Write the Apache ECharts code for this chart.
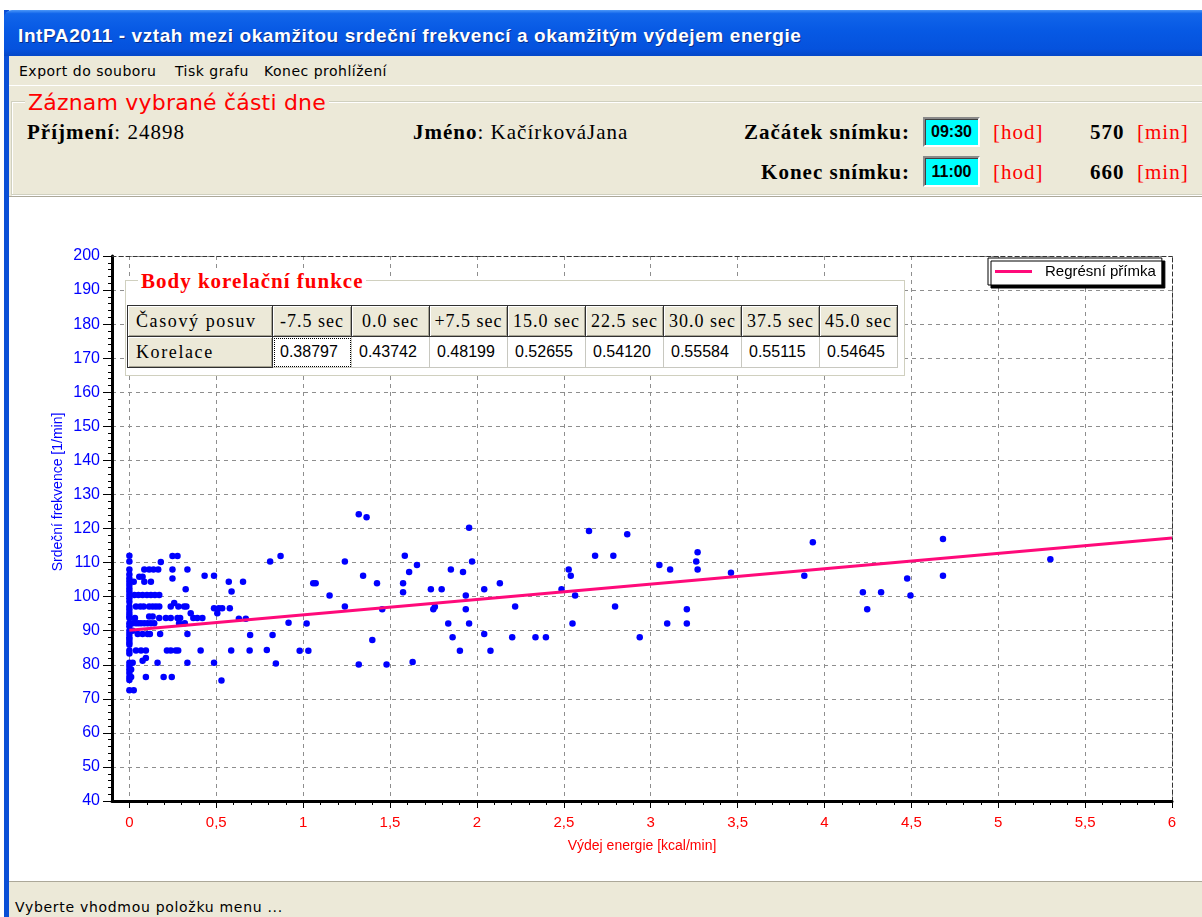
<!DOCTYPE html>
<html lang="cs">
<head>
<meta charset="utf-8">
<title>IntPA2011</title>
<script src="https://cdn.jsdelivr.net/npm/echarts@6/dist/echarts.min.js"></script>
<style>
html,body{margin:0;padding:0;}
body{width:1202px;height:917px;position:relative;overflow:hidden;background:#fff;font-family:"DejaVu Sans",sans-serif;}
.abs{position:absolute;white-space:nowrap;}
#frameLeft{left:4px;top:10px;width:5px;height:907px;background:#0a4fd6;}
#titlebar{left:4px;top:10px;width:1198px;height:46px;border-top-left-radius:8px;
  background:linear-gradient(#4c97f8 0%,#1165ea 8%,#0759e4 45%,#0552dd 85%,#0447c8 100%);}
#titleText{left:18px;top:25px;line-height:24px;color:#fff;font:bold 19px "Liberation Sans",sans-serif;letter-spacing:0.6px;text-shadow:1px 1px 0 #0a2f8a;}
#menubar{left:9px;top:56px;width:1193px;height:29px;background:#ece9d8;border-bottom:1px solid #fff;}
.menu{top:61px;line-height:20px;font-size:14px;letter-spacing:0.5px;color:#000;}
#header{left:9px;top:86px;width:1193px;height:110px;background:#ece9d8;border-bottom:1px solid #aca899;}
#groupBox{left:11px;top:101px;width:1200px;height:92px;border:1px solid #d0d0bf;box-shadow:inset 1px 1px 0 #fff,1px 1px 0 #fff;}
#groupTitle{left:25px;top:89px;line-height:28px;padding:0 3px;background:#ece9d8;color:#ff0000;font-size:22px;letter-spacing:0.2px;font-family:"DejaVu Sans",sans-serif;}
.ser{font-family:"Liberation Serif",serif;font-size:21px;line-height:26px;letter-spacing:1px;color:#000;}
.b{font-weight:bold;}
.red{color:#ff0000;}
.cyan{background:#00ffff;border:2px solid;border-color:#8a8a8a #fff #fff #8a8a8a;box-shadow:inset 1px 1px 0 #404040;
  font:bold 16px "Liberation Sans",sans-serif;color:#000;text-align:center;width:53px;}
#status{left:9px;top:881px;width:1193px;height:36px;background:#ece9d8;border-top:1px solid #aca899;}
#statusText{left:15px;top:897px;line-height:20px;font-size:14px;letter-spacing:0.7px;color:#000;}
#chart{position:absolute;left:0;top:0;width:1202px;height:917px;z-index:1;}
#corrBox{left:125px;top:280px;width:778px;height:94px;border:1px solid #d0d0bf;box-shadow:inset 1px 1px 0 #fff;background:#fff;z-index:2;}
#corrTitle{left:138px;top:269px;line-height:28px;padding:0 3px;background:#fff;color:#ff0000;z-index:3;
  font:bold 21px "Liberation Serif",serif;letter-spacing:1px;}
#corrTable{left:127px;top:305px;z-index:3;border-collapse:collapse;table-layout:fixed;}
#corrTable td{height:29px;padding:0;box-sizing:border-box;white-space:nowrap;}
#corrTable td.fixed{background:#ece9d8;border:1px solid #303030;box-shadow:inset 1px 1px 0 #fff,inset -1px -1px 0 #a8a594;
  font-family:"Liberation Serif",serif;font-size:18px;letter-spacing:1px;color:#000;}
#corrTable td.hdr{text-align:center;}
#corrTable td.lab{padding-left:8px;letter-spacing:1.6px;}
#corrTable td.val{background:#fff;border:1px solid #c8c8c0;font:16px "Liberation Sans",sans-serif;color:#000;padding-left:7px;}
#corrTable td.focus{outline:1px dotted #000;outline-offset:-2px;}
</style>
</head>
<body>
<div id="frameLeft" class="abs"></div>
<div id="titlebar" class="abs"></div>
<div id="titleText" class="abs">IntPA2011 - vztah mezi okamžitou srdeční frekvencí a okamžitým výdejem energie</div>

<div id="menubar" class="abs"></div>
<div class="abs menu" style="left:19px">Export do souboru</div>
<div class="abs menu" style="left:175px">Tisk grafu</div>
<div class="abs menu" style="left:264px">Konec prohlížení</div>

<div id="header" class="abs"></div>
<div id="groupBox" class="abs"></div>
<div id="groupTitle" class="abs">Záznam vybrané části dne</div>

<div class="abs ser" style="left:27px;top:119px"><span class="b">Příjmení</span>: 24898</div>
<div class="abs ser" style="left:413px;top:119px"><span class="b">Jméno</span>: KačírkováJana</div>

<div class="abs ser b" style="right:292px;top:119px">Začátek snímku:</div>
<div class="abs cyan" style="left:923px;top:117px;height:26px;line-height:26px">09:30</div>
<div class="abs ser red" style="left:993px;top:119px">[hod]</div>
<div class="abs ser b" style="left:1090px;top:119px">570</div>
<div class="abs ser red" style="left:1137px;top:119px">[min]</div>

<div class="abs ser b" style="right:292px;top:159px">Konec snímku:</div>
<div class="abs cyan" style="left:923px;top:156px;height:27px;line-height:27px">11:00</div>
<div class="abs ser red" style="left:993px;top:159px">[hod]</div>
<div class="abs ser b" style="left:1090px;top:159px">660</div>
<div class="abs ser red" style="left:1137px;top:159px">[min]</div>

<div id="status" class="abs"></div>
<div id="statusText" class="abs">Vyberte vhodmou položku menu ...</div>

<div id="chart"></div>

<div id="corrBox" class="abs"></div>
<div id="corrTitle" class="abs">Body korelační funkce</div>
<table id="corrTable" class="abs"><tbody id="corrBody"></tbody></table>

<script>
// Correlation of heart rate with energy expenditure for each time shift
const shiftLabels = ['-7.5 sec', '0.0 sec', '+7.5 sec', '15.0 sec', '22.5 sec', '30.0 sec', '37.5 sec', '45.0 sec'];
const corrValues = [0.38797, 0.43742, 0.48199, 0.52655, 0.54120, 0.55584, 0.55115, 0.54645];

// Axis ranges
const energyTicks = { min: 0, max: 6, step: 0.5 };
const heartTicks = { min: 40, max: 200, step: 10 };

// Measured points: [energy expenditure kcal/min, heart rate 1/min]
const measuredPoints = [
  // zero expenditure
  [0, 112], [0, 110.3], [0, 108], [0, 106.5], [0, 105.3], [0, 104.4], [0, 103.4], [0, 102.4],
  [0, 101.5], [0, 100.5], [0, 99.5], [0, 98.5], [0, 97.1], [0, 96.2], [0, 95.2], [0, 94.3],
  [0, 93.7], [0, 92.2], [0, 91.3], [0, 90], [0, 89], [0, 88.1], [0, 87.4], [0, 86.5],
  [0, 85.9], [0, 84.2], [0, 83.3], [0, 80.6], [0, 79.6], [0, 78.6], [0, 77.6], [0, 76.4],
  [0, 75.5], [0, 72.5],
  // up to 0.75 kcal/min
  [0.248, 111.9], [0.277, 111.9], [0.181, 110.2],
  [0.086, 108], [0.114, 108], [0.139, 108], [0.166, 108], [0.248, 108], [0.334, 108],
  [0.433, 106.1], [0.487, 106.1], [0.057, 105.8], [0.076, 105.8], [0.248, 105.3],
  [0.025, 104.4], [0.086, 104.4], [0.124, 104.4], [0.572, 104.4], [0.654, 104.4],
  [0.324, 102.2], [0.588, 101.5],
  [0.029, 100.5], [0.052, 100.5], [0.076, 100.5], [0.101, 100.5], [0.124, 100.5], [0.147, 100.5], [0.172, 100.5],
  [0.258, 98.1],
  [0.038, 97.1], [0.063, 97.1], [0.082, 97.1], [0.114, 97.1], [0.134, 97.1], [0.153, 97.1], [0.172, 97.1],
  [0.238, 97.1], [0.282, 97.1], [0.315, 97.1], [0.328, 97.1],
  [0.487, 96.6], [0.515, 96.6], [0.534, 96.6], [0.578, 96.6],
  [0.353, 95.1], [0.506, 95.1], [0.114, 94.2], [0.134, 94.2],
  [0.032, 93.7], [0.172, 93.7], [0.21, 93.7], [0.238, 93.7], [0.277, 93.7], [0.292, 93.7],
  [0.368, 93.7], [0.391, 93.7], [0.42, 93.7], [0.63, 93.5], [0.67, 93.5],
  [0.019, 92.2], [0.038, 92.2], [0.052, 92.2], [0.067, 92.2], [0.086, 92.2], [0.105, 92.2],
  [0.124, 92.2], [0.143, 92.2], [0.286, 92.2], [0.319, 92.2],
  [0.019, 90],
  [0.048, 89], [0.076, 89], [0.105, 89], [0.118, 89], [0.177, 89], [0.334, 89], [0.695, 88.7],
  [0.038, 84.2], [0.067, 84.2], [0.095, 84.2], [0.216, 84.2], [0.238, 84.2], [0.267, 84.2],
  [0.281, 84.2], [0.41, 84.2], [0.586, 84.2], [0.692, 84.2],
  [0.019, 80.6], [0.076, 81.2], [0.095, 82], [0.162, 80.6], [0.334, 80.6], [0.487, 80.6],
  [0.01, 78.6], [0.01, 76.4], [0.095, 76.4], [0.197, 76.4], [0.244, 76.4], [0.53, 75.4],
  [0.025, 72.5],
  // 0.75 - 1.1 kcal/min
  [0.81, 110.3], [0.87, 111.9], [0.824, 88.7], [0.791, 84.3], [0.843, 80.4], [0.916, 92.3],
  [0.98, 84.1], [1.03, 84.1], [1.02, 92.1],
  // 1 - 3.3 kcal/min
  [1.32, 124.2], [1.365, 123.3], [1.955, 120.2], [2.645, 119.3], [2.865, 118.3],
  [1.24, 110.3], [1.585, 112], [1.655, 109.3], [1.61, 107.2], [1.85, 108], [1.92, 107.2],
  [1.972, 110.3], [2.68, 112], [2.785, 112], [3.05, 109.3], [3.112, 108], [3.27, 113],
  [3.262, 110.3], [3.27, 108], [1.345, 106.1], [1.425, 103.9], [1.058, 103.9], [1.072, 103.9],
  [1.575, 103.9], [1.575, 101.3], [1.735, 102.2], [1.797, 102.2], [2.042, 102.2], [2.132, 103.9],
  [2.487, 102.2], [2.528, 108], [2.54, 106.1], [2.565, 100.3], [1.152, 100.3], [1.936, 100.3],
  [1.24, 97.1], [1.455, 96.3], [1.758, 97], [1.749, 96.3], [1.936, 96.3], [2.22, 97.1],
  [2.795, 97.1], [3.208, 96.3], [1.835, 92.1], [1.955, 92.1], [2.55, 92.1], [3.095, 92.1],
  [3.208, 92.1], [2.042, 89], [1.398, 87.3], [1.86, 88.1], [2.203, 88.1], [2.337, 88.1],
  [2.397, 88.1], [2.937, 88.1], [1.902, 84.1], [2.078, 84.1], [1.63, 80.8], [1.32, 80.1],
  [1.48, 80.1],
  // above 3.3 kcal/min
  [3.462, 107], [3.933, 116], [3.884, 106.1], [4.221, 101.3], [4.326, 101.3], [4.246, 96.3],
  [4.476, 105.3], [4.495, 100.3], [4.682, 116.9], [4.682, 106.1], [5.3, 111]
];

// Regression line end points
const regressionEnds = [[0, 90.1], [6, 117.2]];

// ---- correlation table ----
(function buildTable() {
  const body = document.getElementById('corrBody');
  const widths = [145, 79, 78, 78, 78, 78, 78, 78, 78];
  const r1 = document.createElement('tr');
  const r2 = document.createElement('tr');
  const head = document.createElement('td');
  head.className = 'fixed lab'; head.textContent = 'Časový posuv'; head.style.width = widths[0] + 'px';
  r1.appendChild(head);
  const lab = document.createElement('td');
  lab.className = 'fixed lab'; lab.textContent = 'Korelace';
  r2.appendChild(lab);
  shiftLabels.forEach((s, i) => {
    const h = document.createElement('td');
    h.className = 'fixed hdr'; h.textContent = s; h.style.width = widths[i + 1] + 'px';
    r1.appendChild(h);
    const v = document.createElement('td');
    v.className = 'val' + (i === 0 ? ' focus' : '');
    v.textContent = corrValues[i].toFixed(5);
    r2.appendChild(v);
  });
  r1.style.height = '31px'; r2.style.height = '31px';
  body.appendChild(r1); body.appendChild(r2);
})();

// ---- chart ----
const plotLeft = 112, plotRight = 1172, plotTop = 256, plotBottom = 801;
const xPad = 0.1;
const zeroLeft = plotLeft + (plotRight - plotLeft) * xPad / (energyTicks.max - energyTicks.min + xPad);
const gridLine = { color: '#8e8e8e', type: [4, 4], width: 1 };

const chart = echarts.init(document.getElementById('chart'), null, { renderer: 'canvas' });
chart.setOption({
  animation: false,
  textStyle: { fontFamily: 'Liberation Sans' },
  grid: [
    { left: plotLeft, top: plotTop, right: 1202 - plotRight, bottom: 917 - plotBottom },
    { left: zeroLeft, top: plotTop, right: 1202 - plotRight, bottom: 917 - plotBottom }
  ],
  xAxis: [
    {
      type: 'value', gridIndex: 0, min: energyTicks.min - xPad, max: energyTicks.max,
      axisLine: { show: true, onZero: false, lineStyle: { color: '#000', width: 3 } },
      axisTick: { show: false }, axisLabel: { show: false }, splitLine: { show: false },
      name: 'Výdej energie [kcal/min]', nameLocation: 'middle', nameGap: 38,
      nameTextStyle: { color: '#ff0000', fontSize: 14, fontFamily: 'Liberation Sans' }
    },
    {
      type: 'value', gridIndex: 1, min: energyTicks.min, max: energyTicks.max, interval: energyTicks.step,
      axisLine: { show: false },
      axisTick: { show: true, length: 7, lineStyle: { color: '#000' } },
      minorTick: { show: true, splitNumber: 5, length: 4, lineStyle: { color: '#000' } },
      axisLabel: { color: '#ff0000', fontSize: 15, margin: 14, fontFamily: 'Liberation Sans',
        formatter: v => String(v).replace('.', ',') },
      splitLine: { show: true, lineStyle: gridLine }
    },
    {
      type: 'value', gridIndex: 0, position: 'top', min: energyTicks.min - xPad, max: energyTicks.max,
      axisLine: { show: true, onZero: false, lineStyle: { color: '#333', type: [4, 3], width: 1 } },
      axisTick: { show: false }, axisLabel: { show: false }, splitLine: { show: false }
    }
  ],
  yAxis: [
    {
      type: 'value', gridIndex: 0, min: heartTicks.min, max: heartTicks.max, interval: heartTicks.step,
      axisLine: { show: true, onZero: false, lineStyle: { color: '#000', width: 3 } },
      axisTick: { show: true, length: 9, lineStyle: { color: '#000' } },
      minorTick: { show: true, splitNumber: 5, length: 4, lineStyle: { color: '#000' } },
      axisLabel: { color: '#0000ff', fontSize: 16, margin: 12, fontFamily: 'Liberation Sans' },
      splitLine: { show: true, lineStyle: gridLine }
    },
    { type: 'value', gridIndex: 1, min: heartTicks.min, max: heartTicks.max, show: false },
    {
      type: 'value', gridIndex: 0, position: 'right', min: heartTicks.min, max: heartTicks.max,
      axisLine: { show: true, onZero: false, lineStyle: { color: '#333', type: [4, 3], width: 1 } },
      axisTick: { show: false }, axisLabel: { show: false }, splitLine: { show: false }
    }
  ],
  legend: {
    data: [{ name: 'Regrésní přímka', icon: 'rect' }],
    left: 988, top: 258, itemWidth: 37, itemHeight: 3,
    padding: [6, 6, 6, 7],
    backgroundColor: '#fff', borderColor: '#000', borderWidth: 1, borderRadius: 0,
    shadowColor: '#000', shadowBlur: 0, shadowOffsetX: 3, shadowOffsetY: 3,
    textStyle: { color: '#000', fontSize: 15, fontFamily: 'Liberation Sans', padding: [0, 0, 0, 8] }
  },
  graphic: [{
    type: 'text', x: 58, y: 492, rotation: Math.PI / 2,
    style: { text: 'Srdeční frekvence [1/min]', fill: '#0000ff', font: '14px "Liberation Sans"',
      align: 'center', verticalAlign: 'middle' }
  }],
  series: [
    {
      type: 'scatter', xAxisIndex: 0, yAxisIndex: 0, data: measuredPoints,
      symbol: 'circle', symbolSize: 6.5, itemStyle: { color: '#0000ff', opacity: 1 }, z: 3
    },
    {
      type: 'line', name: 'Regrésní přímka', xAxisIndex: 0, yAxisIndex: 0, data: regressionEnds,
      showSymbol: false, itemStyle: { color: '#ff0a7a' }, lineStyle: { color: '#ff0a7a', width: 3 }, z: 4
    }
  ]
});
</script>
</body>
</html>
